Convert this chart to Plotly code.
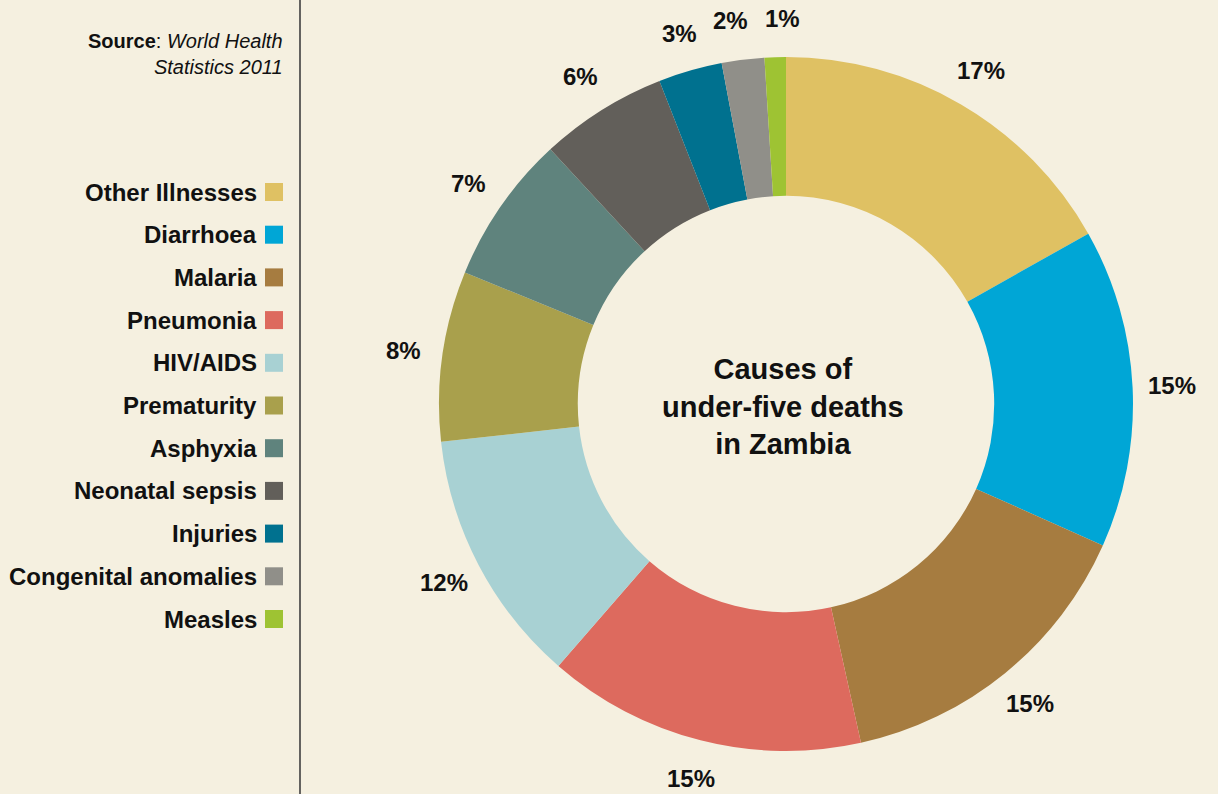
import math
import plotly.graph_objects as go

categories = ["Other Illnesses", "Diarrhoea", "Malaria", "Pneumonia", "HIV/AIDS",
              "Prematurity", "Asphyxia", "Neonatal sepsis", "Injuries",
              "Congenital anomalies", "Measles"]
values = [17, 15, 15, 15, 12, 8, 7, 6, 3, 2, 1]
labels_pct = ["17%", "15%", "15%", "15%", "12%", "8%", "7%", "6%", "3%", "2%", "1%"]
colors = ["#DFC163", "#00A6D6", "#A67C40", "#DD6A5E", "#A8D1D3", "#A9A04C",
          "#5F837D", "#625F5A", "#00718F", "#908F89", "#9EC333"]

W, H = 1218, 794
BG = "#F5F0E0"
FONT = "Liberation Sans"

cx, cy, R = 786, 404, 347  # pixel geometry of the donut
dom_x = [(cx - R) / W, (cx + R) / W]
dom_y = [(H - cy - R) / H, (H - cy + R) / H]

fig = go.Figure()
fig.add_trace(go.Pie(
    labels=categories, values=values, hole=0.6, sort=False, direction="clockwise",
    rotation=0, marker=dict(colors=colors, line=dict(width=0)),
    textinfo="none", hoverinfo="label+percent", showlegend=False,
    domain=dict(x=dom_x, y=dom_y),
))

annotations = []
# percentage labels outside the ring, positioned from slice mid-angles
total = sum(values)
cum = 0
label_r = 386
pos = []
for v in values:
    mid = (cum + v / 2) / total * 2 * math.pi
    cum += v
    pos.append([cx + label_r * math.sin(mid), cy - label_r * math.cos(mid)])
# simple de-overlap of neighbouring small labels
min_gap = 52
for i in range(len(pos) - 1):
    a, b = pos[i], pos[i + 1]
    if abs(a[1] - b[1]) < 25 and abs(a[0] - b[0]) < min_gap:
        d = (min_gap - abs(a[0] - b[0])) / 2
        if a[0] < b[0]:
            a[0] -= d; b[0] += d
        else:
            a[0] += d; b[0] -= d
for (px, py), t in zip(pos, labels_pct):
    annotations.append(dict(x=px / W, y=1 - py / H, xref="paper", yref="paper",
                            text="<b>%s</b>" % t, showarrow=False,
                            font=dict(family=FONT, size=24, color="#111111"),
                            xanchor="center", yanchor="middle"))

# center title
annotations.append(dict(x=(cx - 3) / W, y=1 - (cy + 2) / H, xref="paper", yref="paper",
                        text="<b>Causes of<br>under-five deaths<br>in Zambia</b>",
                        showarrow=False, align="center",
                        font=dict(family=FONT, size=29, color="#111111"),
                        xanchor="center", yanchor="middle"))

# source
annotations.append(dict(x=285 / W, y=1 - 54 / H, xref="paper", yref="paper",
                        text="<b>Source</b>: <i>World Health</i><br><i>Statistics 2011</i>",
                        showarrow=False, align="right",
                        font=dict(family=FONT, size=20, color="#111111"),
                        xanchor="right", yanchor="middle"))

# custom legend (text right-aligned, square on the right)
shapes = []
leg_top, leg_step = 192, 42.7
for i, (c, col) in enumerate(zip(categories, colors)):
    yy = leg_top + i * leg_step
    annotations.append(dict(x=259 / W, y=1 - yy / H, xref="paper", yref="paper",
                            text="<b>%s</b>" % c, showarrow=False,
                            font=dict(family=FONT, size=24, color="#111111"),
                            xanchor="right", yanchor="middle"))
    shapes.append(dict(type="rect", xref="paper", yref="paper",
                       x0=265 / W, x1=283 / W, y0=1 - (yy + 9) / H, y1=1 - (yy - 9) / H,
                       fillcolor=col, line=dict(width=0)))

# vertical divider
shapes.append(dict(type="line", xref="paper", yref="paper", x0=300 / W, x1=300 / W,
                   y0=0, y1=1, line=dict(color="#3F3F3F", width=1.6)))

fig.update_layout(
    width=W, height=H, margin=dict(l=0, r=0, t=0, b=0),
    paper_bgcolor=BG, plot_bgcolor=BG,
    annotations=annotations, shapes=shapes,
    font=dict(family=FONT),
)

fig.write_html(
    "out.html",
    config={"displayModeBar": False},
    post_script="document.body.style.margin='0';document.body.style.overflow='hidden';"
                "document.body.style.background='%s';" % BG,
)
